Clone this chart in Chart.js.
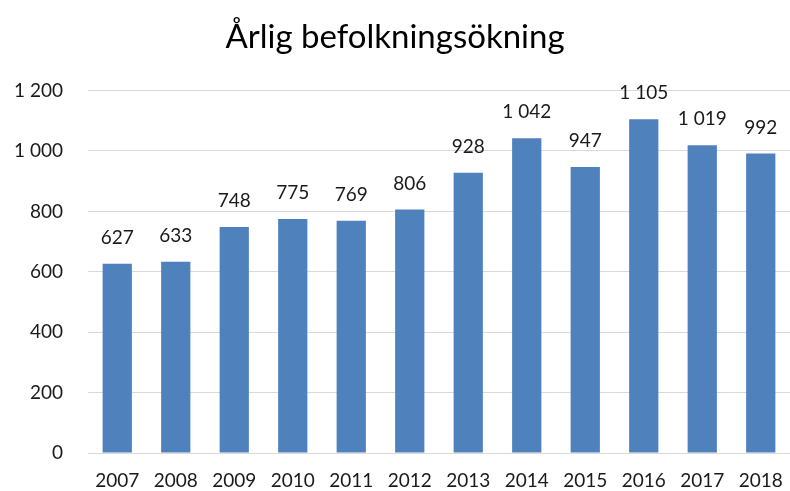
<!DOCTYPE html>
<html><head><meta charset="utf-8">
<script src="https://cdn.jsdelivr.net/npm/chart.js@4/dist/chart.umd.min.js"></script>
<style>html,body{margin:0;padding:0;background:#fff}#w{width:790px;height:491px}</style>
</head><body><div id="w"><canvas id="c"></canvas></div>
<script>
const years = ["2007","2008","2009","2010","2011","2012","2013","2014","2015","2016","2017","2018"];
const growth = [627,633,748,775,769,806,928,1042,947,1105,1019,992];
const yTicks = [0,200,400,600,800,1000,1200];
const title = "Årlig befolkningsökning";

const fmt = v => String(v).replace(/\B(?=(\d{3})+(?!\d))/g, " ");
const FONT = "Lato, 'Open Sans', sans-serif";

const labelPlugin = {
  id: 'barLabels',
  afterDatasetsDraw(chart) {
    const ctx = chart.ctx;
    const meta = chart.getDatasetMeta(0);
    ctx.save();
    ctx.font = "19px " + FONT;
    ctx.fillStyle = "#1a1a1a";
    ctx.textAlign = "center";
    ctx.textBaseline = "middle";
    meta.data.forEach((bar, i) => {
      ctx.fillText(fmt(growth[i]), bar.x, bar.y - 26);
    });
    ctx.restore();
  }
};

new Chart(document.getElementById('c'), {
  type: 'bar',
  data: { labels: years, datasets: [{ data: growth, backgroundColor: '#4F81BD', categoryPercentage: 1, barPercentage: 0.5 }] },
  options: {
    responsive: true, maintainAspectRatio: false, animation: false,
    layout: { padding: { left: 0, right: 0, top: 18, bottom: 0 } },
    plugins: {
      legend: { display: false }, tooltip: { enabled: false },
      title: { display: true, text: title, color: '#000', font: { family: FONT, size: 33, weight: 'normal' }, padding: { top: 0, bottom: 33 } }
    },
    scales: {
      x: {
        grid: { display: false, drawTicks: false },
        border: { display: true, color: '#d9d9d9', width: 1 },
        ticks: { color: '#1a1a1a', font: { family: FONT, size: 19 }, padding: 16, maxRotation: 0 },
        afterFit: s => { s.height = 38; s.paddingLeft = 0; s.paddingRight = 0; }
      },
      y: {
        min: 0, max: 1200,
        afterBuildTicks: s => { s.ticks = yTicks.map(v => ({ value: v })); },
        grid: { color: '#d9d9d9', drawTicks: false },
        border: { display: false },
        ticks: { color: '#1a1a1a', font: { family: FONT, size: 19 }, padding: 25, callback: v => fmt(v) },
        afterFit: s => { s.width = 88; }
      }
    }
  },
  plugins: [labelPlugin]
});
</script></body></html>
